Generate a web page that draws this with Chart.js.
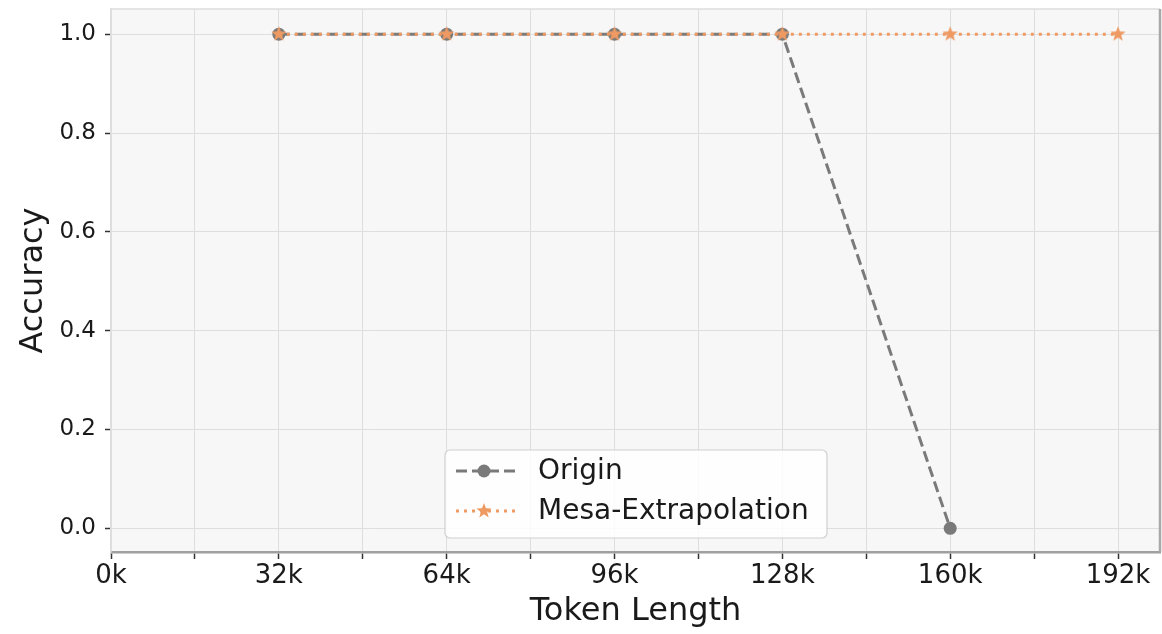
<!DOCTYPE html>
<html><head><meta charset="utf-8">
<script src="https://cdn.jsdelivr.net/npm/chart.js@4/dist/chart.umd.min.js"></script>
<style>html,body{margin:0;padding:0;background:#fff}#wrap{width:1162px;height:634px}</style>
</head><body><div id="wrap"><canvas id="c" width="1162" height="634"></canvas></div>
<script>
const tokenLengths = [32000, 64000, 96000, 128000, 160000, 192000];
const originAcc = [1.0, 1.0, 1.0, 1.0, 0.0];
const mesaAcc = [1.0, 1.0, 1.0, 1.0, 1.0, 1.0];
const xTicks = [0,16000,32000,48000,64000,80000,96000,112000,128000,144000,160000,176000,192000];
const yTicks = [0.0,0.2,0.4,0.6,0.8,1.0];
const seriesNames = ['Origin','Mesa-Extrapolation'];

const GRAY = '#7a7a7a';
const ORANGE = '#ee9a62';
const FONT = "'DejaVu Sans', sans-serif";

function starCanvas(r, color){
  const s = Math.ceil(r*2+2), c = document.createElement('canvas');
  c.width = s; c.height = s;
  const g = c.getContext('2d');
  g.fillStyle = color; g.beginPath();
  for (let i=0;i<10;i++){
    const rr = i%2===0 ? r : r*0.42;
    const a = -Math.PI/2 + i*Math.PI/5;
    const x = s/2 + rr*Math.cos(a), y = s/2 + rr*Math.sin(a);
    i===0 ? g.moveTo(x,y) : g.lineTo(x,y);
  }
  g.closePath(); g.fill();
  return c;
}
const star = starCanvas(8, ORANGE);
const starSmall = starCanvas(8, ORANGE);

const bgPlugin = {
  id:'bg',
  beforeDraw(chart){
    const {ctx, chartArea:a} = chart;
    ctx.save(); ctx.fillStyle = '#f7f7f7';
    ctx.fillRect(a.left, a.top, a.right-a.left, a.bottom-a.top); ctx.restore();
  },
  afterDraw(chart){
    const {ctx, chartArea:a} = chart;
    ctx.save();
    ctx.strokeStyle = '#dddddd'; ctx.lineWidth = 1.5;
    ctx.beginPath(); ctx.moveTo(a.left, a.top); ctx.lineTo(a.right, a.top); ctx.stroke();
    ctx.strokeStyle = '#a8a8a8'; ctx.lineWidth = 2.5;
    ctx.beginPath(); ctx.moveTo(a.right, a.top); ctx.lineTo(a.right, a.bottom); ctx.stroke();
    // legend
    const x0 = 445, y0 = 450, w = 382, h = 88;
    ctx.fillStyle = 'rgba(255,255,255,0.85)'; ctx.strokeStyle = '#d0d0d0'; ctx.lineWidth = 1.2;
    ctx.beginPath(); ctx.roundRect(x0, y0, w, h, 5); ctx.fill(); ctx.stroke();
    const rows = [
      {y: 471, color: GRAY, dash:[11,5], name: seriesNames[0], marker:'circle'},
      {y: 511, color: ORANGE, dash:[3,5], name: seriesNames[1], marker:'star'}
    ];
    rows.forEach(r=>{
      ctx.strokeStyle = r.color; ctx.lineWidth = 3; ctx.setLineDash(r.dash);
      ctx.beginPath(); ctx.moveTo(456, r.y); ctx.lineTo(515, r.y); ctx.stroke();
      ctx.setLineDash([]);
      if (r.marker==='circle'){
        ctx.fillStyle = r.color; ctx.beginPath(); ctx.arc(484, r.y, 6.5, 0, Math.PI*2); ctx.fill();
      } else {
        ctx.drawImage(starSmall, 484 - starSmall.width/2, r.y - starSmall.height/2);
      }
      ctx.fillStyle = '#1a1a1a'; ctx.font = "28px " + FONT; ctx.textBaseline = 'middle'; ctx.textAlign='left';
      ctx.fillText(r.name, 538, r.y + 1);
    });
    ctx.restore();
  }
};

new Chart(document.getElementById('c'), {
  type:'line',
  data:{
    datasets:[
      {label: seriesNames[0], data: originAcc.map((v,i)=>({x:tokenLengths[i], y:v})),
       borderColor: GRAY, backgroundColor: GRAY, borderWidth: 3, borderDash:[11,5],
       pointStyle:'circle', pointRadius:6.5, pointBackgroundColor: GRAY, pointBorderColor: GRAY, pointBorderWidth:0,
       order: 1, tension:0, clip:false},
      {label: seriesNames[1], data: mesaAcc.map((v,i)=>({x:tokenLengths[i], y:v})),
       borderColor: ORANGE, backgroundColor: ORANGE, borderWidth: 3, borderDash:[3,5],
       pointStyle: star, pointRadius: 8, order: 0, tension:0, clip:false}
    ]
  },
  options:{
    responsive:false, animation:false,
    layout:{autoPadding:false, padding:{top:9, right:2, left:0, bottom:0}},
    plugins:{legend:{display:false}, tooltip:{enabled:false}},
    scales:{
      x:{type:'linear', min:0, max:200000,
        afterBuildTicks: s => { s.ticks = xTicks.map(v=>({value:v})); },
        afterFit: s => { s.height = 82; s.paddingLeft = 0; s.paddingRight = 0; },
        ticks:{autoSkip:false, maxRotation:0, padding:2, color:'#1a1a1a', font:{family:FONT, size:26},
          callback: v => (v % 32000 === 0) ? (v/1000)+'k' : ''},
        grid:{color:'#dedede', lineWidth:1, tickLength:7, tickColor:'#333', tickWidth:1.5},
        border:{color:'#a0a0a0', width:2.5},
        title:{display:true, text:'Token Length', color:'#1a1a1a', font:{family:FONT, size:32}, padding:{top:0,bottom:3}}
      },
      y:{type:'linear', min:-0.048, max:1.051,
        afterBuildTicks: s => { s.ticks = yTicks.map(v=>({value:v})); },
        afterFit: s => { s.width = 111; s.paddingTop = 0; s.paddingBottom = 0; },
        ticks:{padding:9, color:'#1a1a1a', font:{family:FONT, size:23}, callback: v => Number(v).toFixed(1)},
        grid:{color:'#dedede', lineWidth:1, tickLength:6, tickColor:'#333', tickWidth:1.5},
        border:{color:'#dddddd', width:1.5},
        title:{display:true, text:'Accuracy', color:'#1a1a1a', font:{family:FONT, size:32}, padding:{top:14,bottom:0}}
      }
    }
  },
  plugins:[bgPlugin]
});
</script></body></html>
